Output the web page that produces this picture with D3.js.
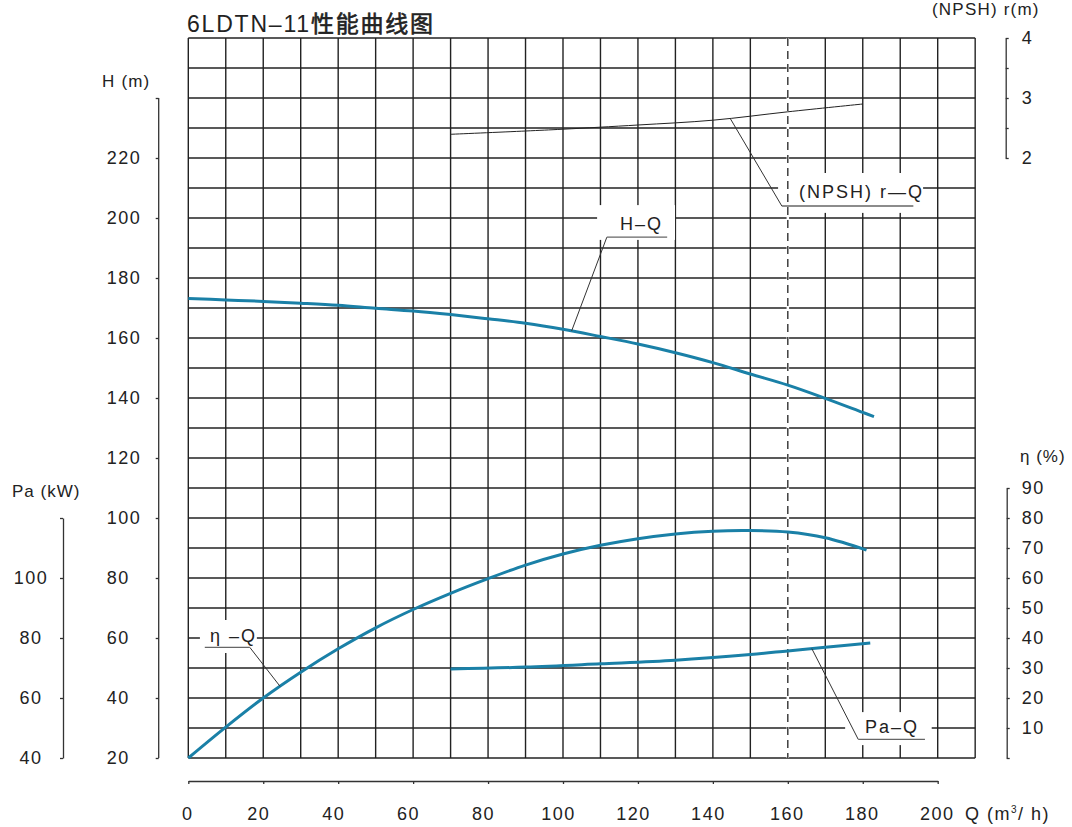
<!DOCTYPE html>
<html><head><meta charset="utf-8">
<script src="https://cdn.jsdelivr.net/npm/d3@7"></script>
<style>
body{margin:0;background:#fff}
svg{display:block}
text{font-family:"Liberation Sans",Arial,sans-serif;fill:#222}
</style>
</head><body>
<svg id="c" width="1072" height="827"></svg>
<script>
// ---------- data ----------
const titleLatin = "6LDTN–11";
const titleCJK = "性能曲线图";

const qTicks = [0,20,40,60,80,100,120,140,160,180,200];
const hTicks = [20,40,60,80,100,120,140,160,180,200,220,240];
const paTicks = [40,60,80,100,120];
const etaTicks = [0,10,20,30,40,50,60,70,80,90];
const npshTicks = [2,2.5,3,3.5,4];

// H-Q
const qH = [0,10,20,30,40,50,60,70,80,90,100,110,120,130,140,150,160,170,180,183];
const headH = [173.2,172.7,172.2,171.6,170.9,169.9,169.0,167.8,166.4,164.9,162.9,160.5,158.0,155.1,151.8,148.0,144.3,139.9,135.2,133.8];
// eta-Q
const qEta = [0,10,20,30,40,50,60,70,80,90,100,110,120,130,140,150,160,170,181];
const eta = [0,10.3,20.0,28.6,36.4,43.4,49.5,54.9,59.8,64.3,68.0,70.9,73.1,74.7,75.6,75.8,75.3,73.4,69.3];
// Pa-Q
const qPa = [70,90,110,130,150,160,170,182];
const power = [69.7,70.3,71.4,72.6,74.5,75.7,76.9,78.3];
// (NPSH)r-Q
const qN = [70,90,100,120,140,160,180];
const npsh = [2.395,2.45,2.48,2.55,2.63,2.77,2.90];

// ---------- scales ----------
const x = d3.scaleLinear([0,200],[188.3,937.7]);
const yH = d3.scaleLinear([20,260],[758,38]);
const yPa = d3.scaleLinear([40,120],[758,518]);
const yEta = d3.scaleLinear([0,90],[758,488]);
const yN = d3.scaleLinear([2,4],[158,38]);

const svg = d3.select("#c");
const INK = "#222";
const CURVE = "#1a80a7";

// ---------- grid ----------
const g = svg.append("g");
const gx0 = x(0), gx1 = x(210), gy0 = yH(260), gy1 = yH(20);
g.selectAll("line.v").data(d3.range(0,211,10)).join("line")
  .attr("x1",d=>x(d)).attr("x2",d=>x(d)).attr("y1",gy0).attr("y2",gy1)
  .attr("stroke",INK).attr("stroke-width",1.4);
g.selectAll("line.h").data(d3.range(20,261,10)).join("line")
  .attr("x1",gx0).attr("x2",gx1).attr("y1",d=>yH(d)).attr("y2",d=>yH(d))
  .attr("stroke",INK).attr("stroke-width",1.4);

// annotation settings (label positions in chart units)
const annots = [
  {text:"H–Q", tq:115.2, th:196.0, u:[111.7,127.8,193.6], cq:102.3, cx:qH, cy:headH, ys:yH, box:[109.1,129.9,204.3,192.7], fromRight:false},
  {text:"(NPSH) r—Q", tq:163.0, th:206.7, u:[158.4,193.5,204.0], cq:144.6, cx:qN, cy:npsh, ys:yN, box:[157.4,196.1,215,201.7], fromRight:false},
  {text:"η –Q", tq:5.8, th:58.8, u:[4.4,16.4,56.9], cq:24.5, cx:qEta, cy:eta, ys:yEta, box:[3.1,18.3,66,55], fromRight:true},
  {text:"Pa–Q", tq:180.6, th:28.4, u:[178.8,196.6,26.2], cq:166.4, cx:qPa, cy:power, ys:yPa, box:[175.3,198.4,35.3,24.3], fromRight:false}
];
svg.selectAll("rect.box").data(annots).join("rect")
  .attr("x",d=>x(d.box[0])).attr("width",d=>x(d.box[1])-x(d.box[0]))
  .attr("y",d=>yH(d.box[2])).attr("height",d=>yH(d.box[3])-yH(d.box[2]))
  .attr("fill","#fff");

// dashed line at Q=160
svg.append("line").attr("x1",x(160)).attr("x2",x(160)).attr("y1",gy0).attr("y2",gy1)
  .attr("stroke","#fff").attr("stroke-width",2.5);
svg.append("line").attr("x1",x(160)).attr("x2",x(160)).attr("y1",gy0).attr("y2",gy1)
  .attr("stroke",INK).attr("stroke-width",1.3).attr("stroke-dasharray","8,5");

// ---------- axes ----------
function styleAxis(sel){
  sel.select(".domain").attr("stroke","#333").attr("stroke-width",1.3);
  sel.selectAll(".tick line").attr("stroke","#333").attr("stroke-width",1.3);
  sel.selectAll(".tick text").attr("fill",INK).style("font-size","18px")
     .style("letter-spacing","1.5px").style("font-family",'"Liberation Sans",Arial,sans-serif');
}
// X axis
const ax = svg.append("g").attr("transform","translate(0,781)")
  .call(d3.axisBottom(x).tickValues(qTicks).tickSize(3).tickSizeOuter(0).tickPadding(23));
styleAxis(ax);
ax.selectAll(".tick text").attr("dx",d=>(d>0&&d<160)?-5:-1);
// H axis
const ah = svg.append("g").attr("transform","translate(158.7,0)")
  .call(d3.axisLeft(yH).tickValues(hTicks).tickSize(3).tickSizeOuter(0)
    .tickFormat(d=>d<=220?d:""));
styleAxis(ah);
ah.select(".domain").attr("d",`M0,${yH(240)}V${yH(20)}`);
ah.selectAll(".tick text").attr("text-anchor","start").attr("x",-52);
// Pa axis
const ap = svg.append("g").attr("transform","translate(63,0)")
  .call(d3.axisLeft(yPa).tickValues(paTicks).tickSize(3).tickSizeOuter(0)
    .tickFormat(d=>d<=100?d:""));
styleAxis(ap);
ap.selectAll(".tick text").attr("text-anchor","middle").attr("x",-32);
// eta axis
const ae = svg.append("g").attr("transform","translate(1006.7,0)")
  .call(d3.axisRight(yEta).tickValues(etaTicks).tickSize(3).tickSizeOuter(0).tickPadding(12)
    .tickFormat(d=>d>0?d:""));
styleAxis(ae);
// NPSH axis
const an = svg.append("g").attr("transform","translate(1005.7,0)")
  .call(d3.axisRight(yN).tickValues(npshTicks).tickSize(3).tickSizeOuter(0).tickPadding(13)
    .tickFormat(d=>Number.isInteger(d)?d:""));
styleAxis(an);

// ---------- curves ----------
function curve(qs, vs, ys, color, w){
  const line = d3.line().x(d=>x(d[0])).y(d=>ys(d[1])).curve(d3.curveCatmullRom.alpha(0.5));
  svg.append("path").datum(d3.zip(qs,vs)).attr("d",line)
    .attr("fill","none").attr("stroke",color).attr("stroke-width",w).attr("stroke-linecap","butt");
}
curve(qH, headH, yH, CURVE, 3);
curve(qEta, eta, yEta, CURVE, 3);
curve(qPa, power, yPa, CURVE, 3);
curve(qN, npsh, yN, "#222", 1);

// ---------- annotations ----------
annots.forEach(a=>{
  const interp = d3.scaleLinear().domain(a.cx).range(a.cy);
  const px = x(a.cq), py = a.ys(interp(a.cq));
  const ux0 = x(a.u[0]), ux1 = x(a.u[1]), uy = yH(a.u[2]);
  const end = a.fromRight ? ux1 : ux0;
  svg.append("line").attr("x1",end).attr("y1",uy).attr("x2",px).attr("y2",py)
    .attr("stroke","#333").attr("stroke-width",1);
  svg.append("line").attr("x1",ux0).attr("x2",ux1).attr("y1",uy).attr("y2",uy)
    .attr("stroke","#666").attr("stroke-width",1.3);
  svg.append("text").attr("x",x(a.tq)).attr("y",yH(a.th)).text(a.text)
    .style("font-size","18px").style("letter-spacing","2px");
});

// ---------- titles ----------
const t = svg.append("text").attr("x",187).attr("y",32).style("font-size","23px").style("letter-spacing","1.8px");
t.append("tspan").text(titleLatin);
t.append("tspan").text(titleCJK).style("font-family",'"Noto Sans CJK SC",sans-serif')
  .attr("stroke","#222").attr("stroke-width",0.6);

svg.append("text").attr("x",102).attr("y",87).text("H (m)")
  .style("font-size","17px").style("letter-spacing","1.2px");
svg.append("text").attr("x",12).attr("y",497).text("Pa (kW)")
  .style("font-size","17px").style("letter-spacing","1px");
svg.append("text").attr("x",1020).attr("y",462).text("η (%)")
  .style("font-size","17px").style("letter-spacing","1px");
svg.append("text").attr("x",932).attr("y",15).text("(NPSH) r(m)")
  .style("font-size","17px").style("letter-spacing","1.2px");
const qt = svg.append("text").attr("x",965).attr("y",820).style("font-size","18px").style("letter-spacing","1.5px");
qt.append("tspan").text("Q (m");
qt.append("tspan").text("3").attr("dy",-7).style("font-size","10px");
qt.append("tspan").text("/ h)").attr("dy",7);
</script>
</body></html>
